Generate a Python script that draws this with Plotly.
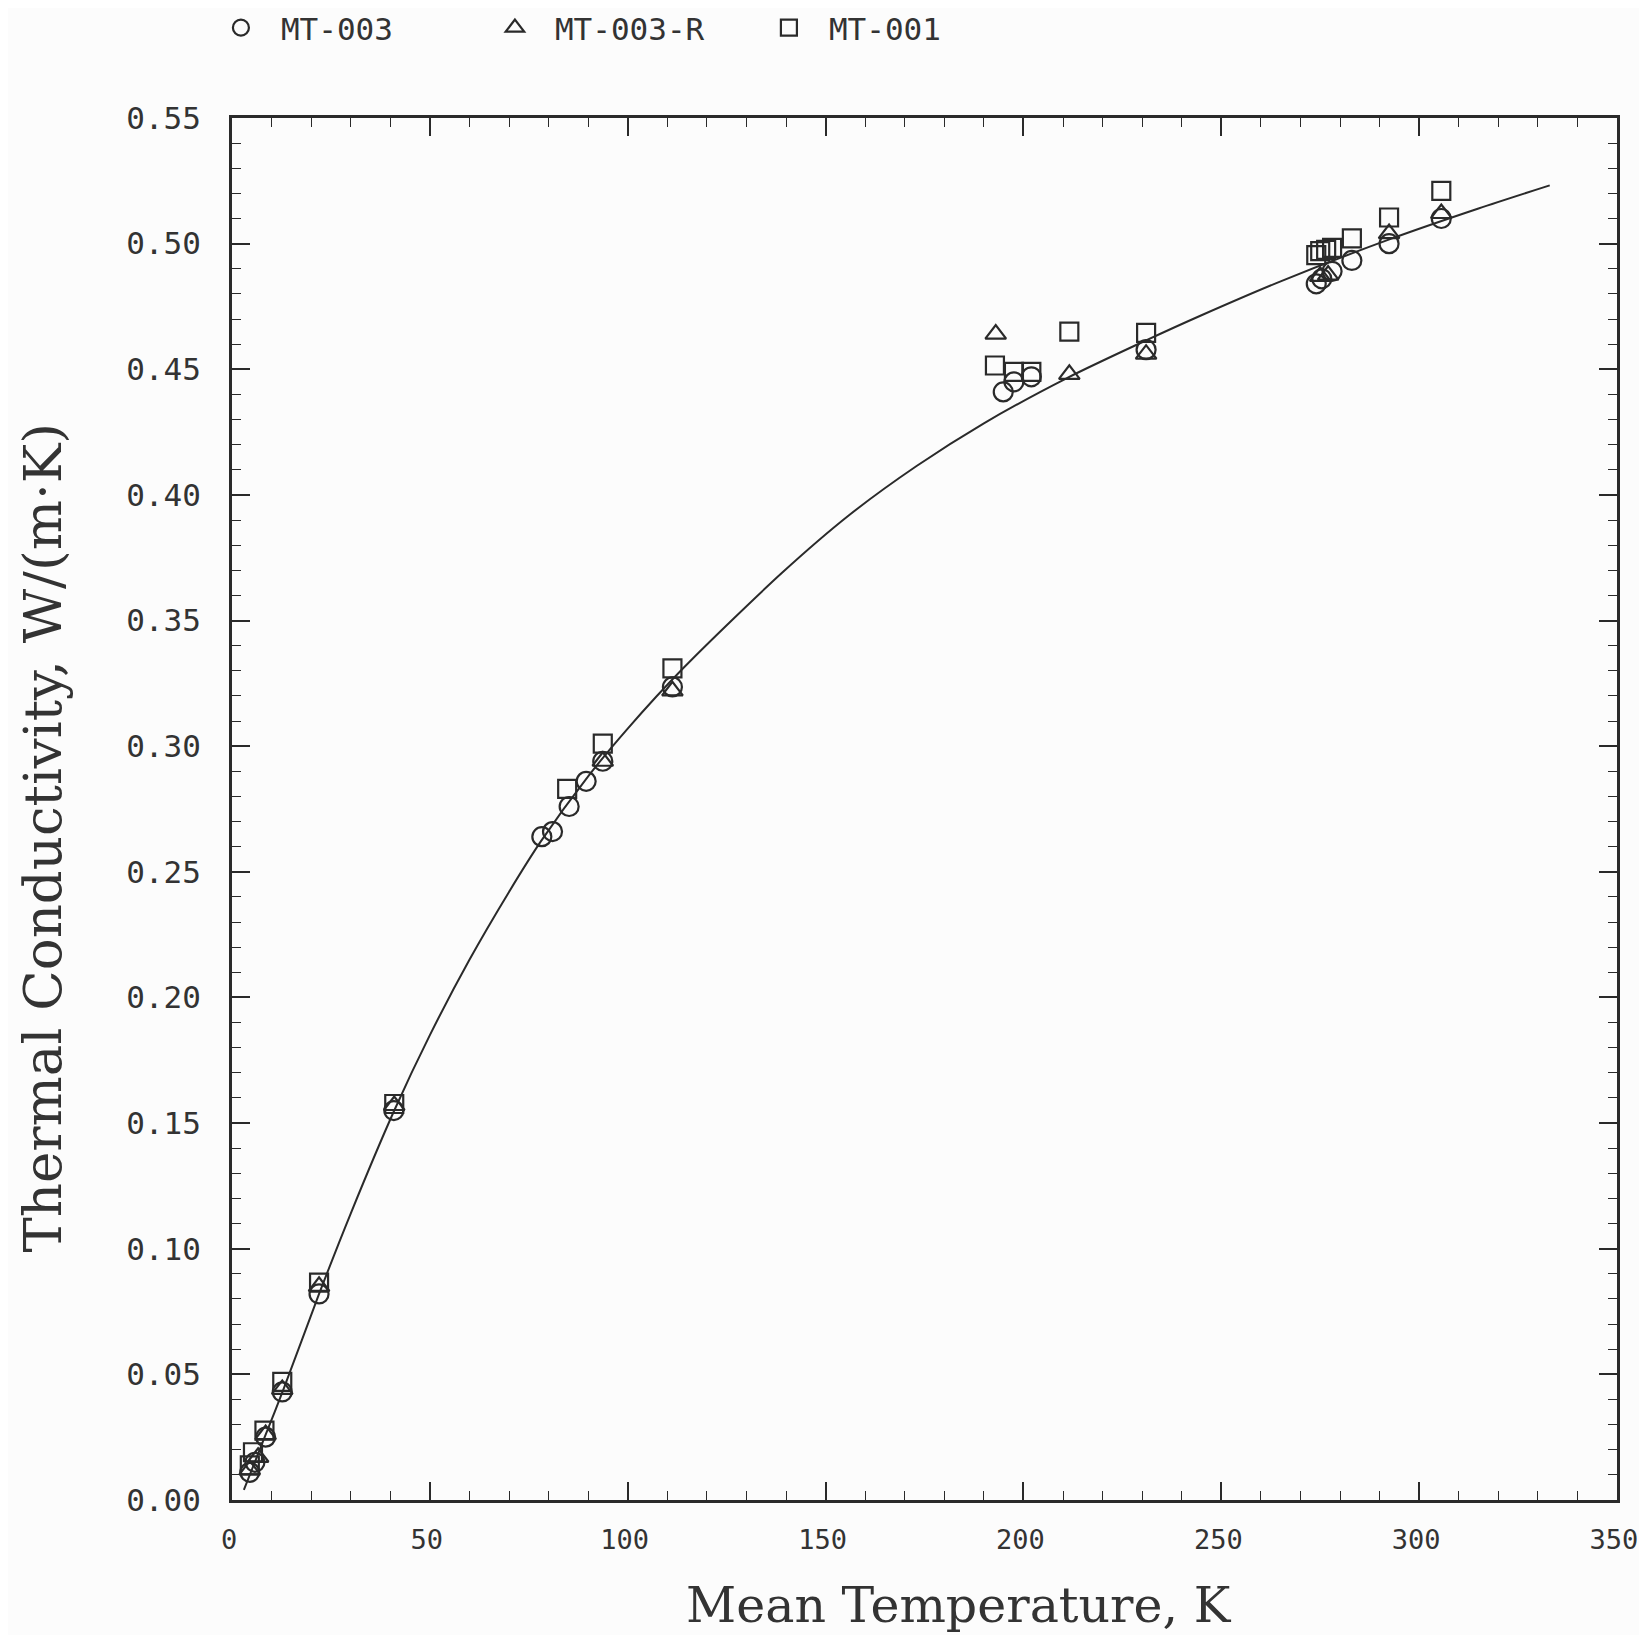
import plotly.graph_objects as go

# ---- data ----
t_mt003 = [4.5, 5.8, 8.5, 12.7, 22.0, 40.9, 78.3, 81.0, 85.2, 89.5, 93.7, 111.3,
           194.9, 197.6, 202.0, 231.0, 274.0, 275.4, 278.0, 283.0, 292.4, 305.6]
k_mt003 = [0.011, 0.015, 0.025, 0.043, 0.082, 0.155, 0.264, 0.266, 0.276, 0.286, 0.294, 0.3236,
           0.441, 0.445, 0.447, 0.4578, 0.484, 0.486, 0.489, 0.4933, 0.500, 0.510]

t_mt003r = [4.5, 6.6, 8.5, 12.7, 22.0, 41.0, 93.7, 111.3, 193.0, 211.6, 231.0, 275.0, 277.0, 292.4, 305.6]
k_mt003r = [0.012, 0.017, 0.026, 0.044, 0.085, 0.157, 0.294, 0.322, 0.464, 0.448, 0.456, 0.487, 0.4875, 0.504, 0.512]

t_mt001 = [4.5, 5.3, 8.2, 12.7, 22.0, 41.0, 84.7, 93.7, 111.3, 192.8, 197.6, 202.0, 211.6, 231.0,
           274.0, 275.0, 276.5, 278.0, 283.0, 292.4, 305.6]
k_mt001 = [0.0138, 0.019, 0.0276, 0.047, 0.0865, 0.1576, 0.283, 0.301, 0.331, 0.4515, 0.449, 0.449, 0.465, 0.4645,
           0.4954, 0.497, 0.4975, 0.4983, 0.5021, 0.5104, 0.521]

t_fit = [3, 8, 13, 22, 30, 41, 50, 60, 70, 78, 90, 100, 114, 139, 156, 173, 190, 211, 231, 245, 265, 293, 315, 333]
k_fit = [0.004, 0.024, 0.044, 0.082, 0.114, 0.155, 0.185, 0.215, 0.242, 0.262, 0.288, 0.307, 0.331, 0.369,
         0.392, 0.4115, 0.4285, 0.4465, 0.4615, 0.4715, 0.485, 0.502, 0.514, 0.5232]

x_ticks = [0, 50, 100, 150, 200, 250, 300, 350]
y_ticks = [0.00, 0.05, 0.10, 0.15, 0.20, 0.25, 0.30, 0.35, 0.40, 0.45, 0.50, 0.55]

x_title = "Mean Temperature, K"
y_title = "Thermal Conductivity, W/(m·K)"

TICK_FONT = "DejaVu Sans Mono"
TITLE_FONT = "DejaVu Serif"
INK = "#2a2a2a"

fig = go.Figure()

fig.add_trace(go.Scatter(x=t_fit, y=k_fit, mode="lines",
                         line=dict(color=INK, width=2, shape="spline", smoothing=0.8),
                         showlegend=False, hoverinfo="skip"))

mk_line = dict(color=INK, width=2.2)
fig.add_trace(go.Scatter(x=t_mt003, y=k_mt003, mode="markers", name="MT-003",
                         marker=dict(symbol="circle-open", size=19, color=INK, line=mk_line)))
fig.add_trace(go.Scatter(x=t_mt003r, y=k_mt003r, mode="markers", name="MT-003-R",
                         marker=dict(symbol="triangle-up-open", size=18, color=INK, line=mk_line)))
fig.add_trace(go.Scatter(x=t_mt001, y=k_mt001, mode="markers", name="MT-001",
                         marker=dict(symbol="square-open", size=18, color=INK, line=mk_line)))

axis_common = dict(
    showline=True, linecolor=INK, linewidth=3, mirror="allticks",
    ticks="inside", ticklen=18, tickwidth=1.5, tickcolor=INK,
    showgrid=False, zeroline=False, automargin=False, ticklabeloverflow="allow",
)

fig.update_xaxes(
    range=[0, 350], tickvals=x_ticks, ticktext=[str(v) for v in x_ticks],
    minor=dict(dtick=10, ticks="inside", ticklen=9, tickwidth=1.2, tickcolor=INK),
    ticklabelstandoff=14, ticklabelshift=-3,
    tickfont=dict(family=TICK_FONT, size=27, color="#333"),
    **axis_common,
)
fig.update_yaxes(
    range=[0, 0.55], tickvals=y_ticks, ticktext=[f"{v:.2f}" for v in y_ticks],
    minor=dict(dtick=0.01, ticks="inside", ticklen=9, tickwidth=1.2, tickcolor=INK),
    ticklabelstandoff=22,
    tickfont=dict(family=TICK_FONT, size=31, color="#333"),
    **axis_common,
)

fig.add_annotation(text=x_title, xref="paper", yref="paper", x=0.525, y=-0.076,
                   xanchor="center", yanchor="middle", showarrow=False,
                   font=dict(family=TITLE_FONT, size=49, color="#333"))
fig.add_annotation(text=y_title, xref="paper", yref="paper", x=-0.137, y=0.4795,
                   xanchor="center", yanchor="middle", showarrow=False, textangle=-90,
                   font=dict(family=TITLE_FONT, size=53, color="#333"))

fig.update_layout(
    width=1639, height=1627,
    margin=dict(l=224, r=30, t=110, b=135),
    paper_bgcolor="#fcfcfc", plot_bgcolor="#fcfcfc",
    legend=dict(orientation="h", xref="container", yref="container",
                x=0.1177, xanchor="left", y=0.9877, yanchor="middle",
                font=dict(family=TICK_FONT, size=31, color="#333"),
                entrywidth=189, entrywidthmode="pixels", itemwidth=70, bgcolor="rgba(0,0,0,0)"),
)

fig.write_html("out.html")
